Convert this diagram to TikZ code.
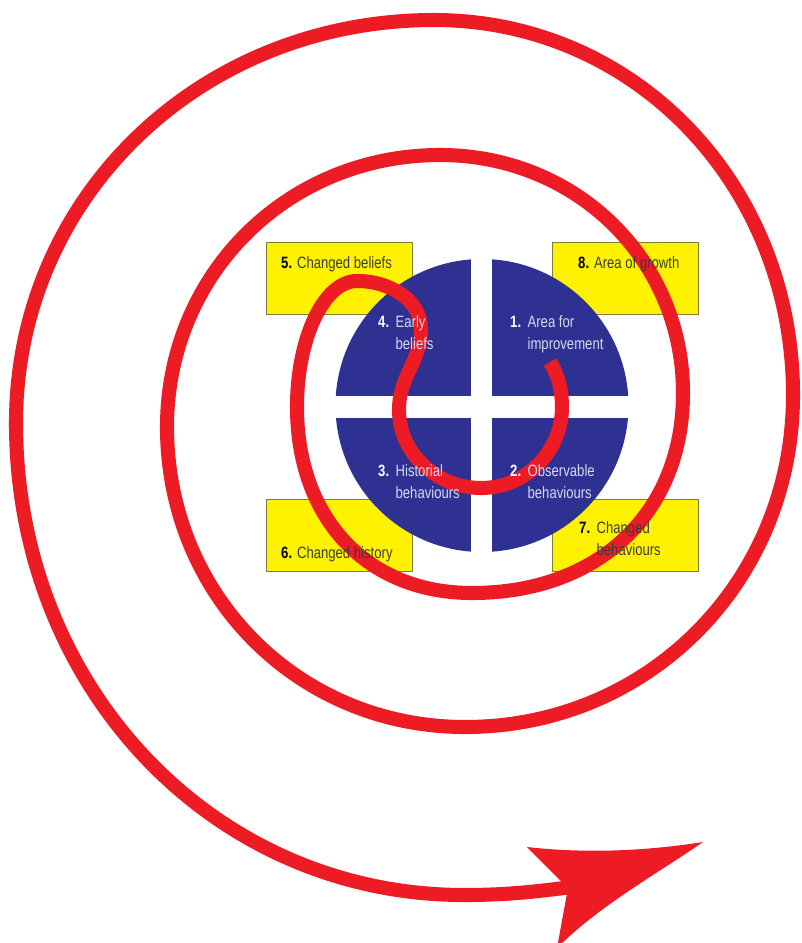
\documentclass[tikz,border=0pt]{standalone}
\usepackage{fontspec}
\setmainfont{Liberation Sans}
\newfontfamily\condfont[FakeStretch=0.8]{Liberation Sans}
\definecolor{spiralred}{RGB}{237,28,36}
\definecolor{discblue}{RGB}{46,49,146}
\definecolor{boxyellow}{RGB}{255,242,0}
\definecolor{boxedge}{RGB}{125,125,60}
\definecolor{darktext}{RGB}{60,60,55}
\definecolor{lighttext}{RGB}{215,215,240}
\tikzset{
  ybox/.style={draw=boxedge, line width=0.8pt, fill=boxyellow, inner sep=0pt,
    minimum width=4.38cm, minimum height=2.16cm},
  lbl/.style={anchor=base west, inner sep=0pt,
    font=\condfont\fontsize{14}{19.6}\selectfont},
  boxlbl/.style={lbl, text=darktext},
  disclbl/.style={lbl, text=lighttext},
  spiral/.style={draw=spiralred, line width=12pt, line join=round},
}
\newcommand{\bnum}[1]{\textbf{\color{black}#1}}
\newcommand{\wnum}[1]{\textbf{\color{white}#1}}
\begin{document}
\begin{tikzpicture}[x=0.03cm,y=-0.03cm]
\useasboundingbox (0,0) rectangle (801,943);
\clip (0,0) rectangle (801,943);
\fill[white] (0,0) rectangle (801,943);

% yellow boxes
\node[ybox] (b5) at (339,278) {};
\node[ybox] (b8) at (625,278) {};
\node[ybox] (b6) at (339,535.5) {};
\node[ybox] (b7) at (625,535.5) {};

% blue disc with white cross
\fill[discblue] (482,405.5) circle (146.5);
\fill[white] (471,250) rectangle (492,560);
\fill[white] (330,396) rectangle (635,418);

% red spiral
\draw[spiral] (550,362)
  .. controls (558.6,375.2) and (562,391.3) .. (562,407)
  .. controls (562,451.7) and (525.7,488) .. (481,488)
  .. controls (436.3,488) and (399,453) .. (399,410)
  .. controls (399,375) and (421,363) .. (421,328)
  .. controls (421,302) and (392,281) .. (357,281)
  .. controls (324,281) and (297,338) .. (297,407)
  .. controls (297,518.6) and (367,593) .. (472,593)
  .. controls (598.6,593) and (683,513) .. (683,393)
  .. controls (683,259.7) and (576.1,155) .. (440,155)
  .. controls (287.1,155) and (167,274.7) .. (167,427)
  .. controls (167,595) and (298.1,727) .. (465,727)
  .. controls (648.7,727) and (793,580.9) .. (793,395)
  .. controls (793,185) and (635,20) .. (434,20)
  .. controls (200,20) and (16,197.3) .. (16,423)
  .. controls (16,687.3) and (213.1,895) .. (464,895)
  .. controls (510,895) and (540,891) .. (572,887);

% arrowhead
\fill[spiralred] (527,847)
  .. controls (580,853) and (640,852) .. (703,842)
  .. controls (660,872) and (600,905) .. (557,948)
  -- (568,888) -- cycle;

% labels (printed over the spiral)
\node[boxlbl] (t5) at (281,268) {\bnum{5.} Changed beliefs};
\node[boxlbl] (t8) at (578,268) {\bnum{8.} Area of growth};
\node[boxlbl] (t6) at (281,558) {\bnum{6.} Changed history};
\node[boxlbl] (t7) at (579,533) {\begin{tabular}[t]{@{}l@{\hspace{5.5pt}}l@{}}\bnum{7.} & Changed\\ & behaviours\end{tabular}};
\node[disclbl] (t4) at (378,327) {\begin{tabular}[t]{@{}l@{\hspace{5.5pt}}l@{}}\wnum{4.} & Early\\ & beliefs\end{tabular}};
\node[disclbl] (t1) at (510,327) {\begin{tabular}[t]{@{}l@{\hspace{5.5pt}}l@{}}\wnum{1.} & Area for\\ & improvement\end{tabular}};
\node[disclbl] (t3) at (378,476) {\begin{tabular}[t]{@{}l@{\hspace{5.5pt}}l@{}}\wnum{3.} & Historial\\ & behaviours\end{tabular}};
\node[disclbl] (t2) at (510,476) {\begin{tabular}[t]{@{}l@{\hspace{5.5pt}}l@{}}\wnum{2.} & Observable\\ & behaviours\end{tabular}};
\end{tikzpicture}
\end{document}
